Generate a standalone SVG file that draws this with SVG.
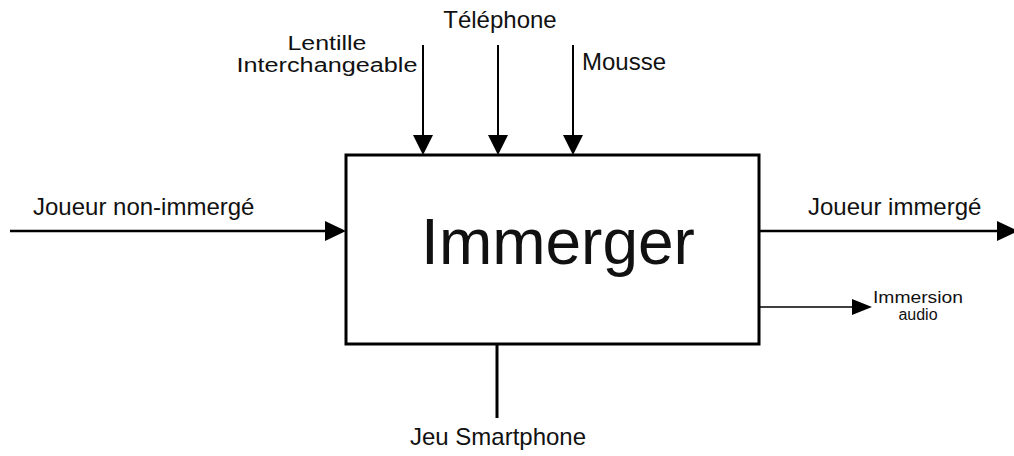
<svg xmlns="http://www.w3.org/2000/svg" width="1014" height="456" viewBox="0 0 1014 456">
<style>
text{font-family:"Liberation Sans",Arial,sans-serif;fill:#111}
.l{font-size:24px}
.m{font-size:20px}
.s{font-size:16px}
.c{stroke:#000;fill:none}
</style>
<rect width="1014" height="456" fill="#fff"/>
<g id="connectors">
<line class="c" x1="423" y1="45" x2="423" y2="137" stroke-width="2"/>
<path d="M413,135 L433,135 L423,155 Z"/>
<line class="c" x1="498" y1="45" x2="498" y2="137" stroke-width="2"/>
<path d="M488,135 L508,135 L498,155 Z"/>
<line class="c" x1="573" y1="45" x2="573" y2="137" stroke-width="2"/>
<path d="M563,135 L583,135 L573,155 Z"/>
<line class="c" x1="10" y1="231" x2="328" y2="231" stroke-width="2.5"/>
<path d="M325,221 L346,231 L325,241 Z"/>
<line class="c" x1="760" y1="231" x2="1000" y2="231" stroke-width="2.5"/>
<path d="M997,221 L1018,231 L997,241 Z"/>
<line class="c" x1="760" y1="307" x2="854" y2="307" stroke-width="1.5"/>
<path d="M852,299 L872,307 L852,315 Z"/>
<line class="c" x1="497" y1="344" x2="497" y2="418" stroke-width="3"/>
</g>
<g id="immerger">
<rect x="346" y="155" width="413" height="189" fill="#fff" stroke="#000" stroke-width="3"/>
<text x="558" y="264" font-size="64" text-anchor="middle">Immerger</text>
</g>
<g id="lentille">
<text class="m" x="327" y="50" text-anchor="middle" textLength="79" lengthAdjust="spacingAndGlyphs">Lentille</text>
<text class="m" x="327" y="72" text-anchor="middle" textLength="181" lengthAdjust="spacingAndGlyphs">Interchangeable</text>
</g>
<g id="telephone"><text class="l" x="500" y="28" text-anchor="middle">Téléphone</text></g>
<g id="mousse"><text class="l" x="582" y="70">Mousse</text></g>
<g id="joueur-non"><text class="l" x="33" y="215">Joueur non-immergé</text></g>
<g id="joueur-imm"><text class="l" x="808" y="215">Joueur immergé</text></g>
<g id="audio">
<text class="s" x="918" y="303" text-anchor="middle" textLength="90" lengthAdjust="spacingAndGlyphs">Immersion</text>
<text class="s" x="918" y="320" text-anchor="middle">audio</text>
</g>
<g id="jeu"><text class="l" x="498" y="445" text-anchor="middle">Jeu Smartphone</text></g>
</svg>
